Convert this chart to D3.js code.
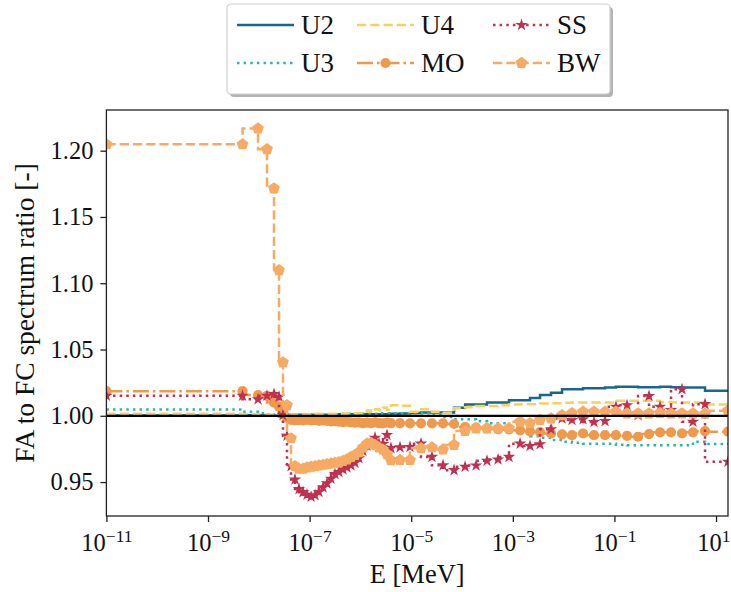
<!DOCTYPE html>
<html>
<head>
<meta charset="utf-8">
<script src="https://cdn.jsdelivr.net/npm/d3@7"></script>
<style>
  body { margin: 0; background: #fff; }
  svg text { font-family: "Liberation Serif", "DejaVu Serif", serif; fill: #111; }
</style>
</head>
<body>
<svg id="chart" width="731" height="592"></svg>
<script>
// Group boundary energies [MeV]; each ratio applies to the group ending at that energy
const energies = [
  1e-11, 4.78e-9, 9.64e-9, 1.45e-8, 1.99e-8, 2.50e-8, 2.99e-8, 3.59e-8, 4.30e-8, 5.16e-8,
  6.18e-8, 7.41e-8, 8.89e-8, 1.07e-7, 1.28e-7, 1.53e-7, 1.84e-7, 2.20e-7, 2.64e-7, 3.16e-7,
  3.79e-7, 4.54e-7, 5.45e-7, 6.53e-7, 7.83e-7, 9.38e-7, 1.12e-6, 1.35e-6, 1.62e-6, 1.94e-6,
  2.32e-6, 2.78e-6, 3.34e-6, 4.00e-6, 6.02e-6, 9.46e-6, 1.56e-5, 2.56e-5, 4.23e-5, 6.97e-5,
  1.15e-4, 1.89e-4, 3.10e-4, 5.12e-4, 8.42e-4, 1.39e-3, 2.18e-3, 3.43e-3, 5.65e-3, 9.31e-3,
  1.46e-2, 2.41e-2, 3.96e-2, 6.53e-2, 0.107, 0.177, 0.292, 0.480, 0.791, 1.30,
  2.14, 3.52, 6.07, 17.2
];

const ratioU2 = [
  1.0003, 1.0003, 1.0005, 1.0005, 1.0003, 1.0000, 0.9998, 1.0008, 1.0008, 1.0008,
  1.0008, 1.0008, 1.0008, 1.0008, 1.0008, 1.0008, 1.0008, 1.0008, 1.0008, 1.0008,
  1.0008, 1.0012, 1.0012, 1.0012, 1.0012, 1.0012, 1.0012, 1.0012, 1.0012, 1.0012,
  1.0012, 1.0012, 1.0012, 1.0012, 1.0015, 1.0018, 1.0022, 1.0025, 1.0025, 1.0025,
  1.0060, 1.0086, 1.0086, 1.0101, 1.0101, 1.0118, 1.0118, 1.0135, 1.0156, 1.0173,
  1.0201, 1.0201, 1.0207, 1.0207, 1.0213, 1.0219, 1.0219, 1.0216, 1.0216, 1.0219,
  1.0216, 1.0213, 1.0213, 1.0189
];

const ratioU3 = [
  1.0048, 1.0048, 1.0030, 1.0020, 1.0010, 1.0000, 0.9995, 1.0005, 1.0005, 1.0005,
  1.0005, 1.0005, 1.0005, 1.0010, 1.0010, 1.0010, 1.0010, 1.0010, 1.0010, 1.0010,
  1.0010, 1.0015, 1.0015, 1.0015, 1.0015, 1.0015, 1.0015, 1.0015, 1.0015, 1.0015,
  1.0015, 1.0020, 1.0020, 1.0020, 1.0020, 1.0020, 1.0020, 1.0020, 1.0010, 0.9990,
  0.9973, 0.9973, 0.9958, 0.9943, 0.9943, 0.9900, 0.9867, 0.9845, 0.9835, 0.9817,
  0.9805, 0.9797, 0.9790, 0.9790, 0.9790, 0.9782, 0.9777, 0.9777, 0.9777, 0.9777,
  0.9777, 0.9777, 0.9804, 0.9787
];

const ratioU4 = [
  1.0015, 1.0015, 1.0012, 1.0010, 1.0010, 1.0005, 1.0000, 1.0010, 1.0010, 1.0010,
  1.0010, 1.0010, 1.0010, 1.0010, 1.0010, 1.0015, 1.0015, 1.0015, 1.0015, 1.0015,
  1.0015, 1.0015, 1.0015, 1.0020, 1.0020, 1.0020, 1.0020, 1.0030, 1.0040, 1.0030,
  1.0050, 1.0040, 1.0060, 1.0045, 1.0080, 1.0075, 1.0030, 1.0050, 1.0030, 1.0023,
  1.0056, 1.0065, 1.0073, 1.0073, 1.0080, 1.0085, 1.0088, 1.0088, 1.0092, 1.0095,
  1.0098, 1.0101, 1.0101, 1.0101, 1.0101, 1.0113, 1.0113, 1.0113, 1.0113, 1.0105,
  1.0101, 1.0101, 1.0101, 1.0086
];

const ratioMO = [
  1.0186, 1.0186, 1.0156, 1.0150, 1.0100, 1.0070, 1.0030, 0.9985, 0.9970, 0.9965,
  0.9968, 0.9965, 0.9970, 0.9965, 0.9968, 0.9962, 0.9965, 0.9962, 0.9958, 0.9960,
  0.9955, 0.9952, 0.9955, 0.9950, 0.9948, 0.9950, 0.9945, 0.9948, 0.9945, 0.9950,
  0.9945, 0.9942, 0.9948, 0.9945, 0.9945, 0.9943, 0.9943, 0.9943, 0.9943, 0.9938,
  0.9915, 0.9910, 0.9905, 0.9900, 0.9897, 0.9890, 0.9882, 0.9877, 0.9867, 0.9860,
  0.9854, 0.9867, 0.9854, 0.9854, 0.9854, 0.9849, 0.9842, 0.9862, 0.9875, 0.9875,
  0.9867, 0.9875, 0.9885, 0.9880
];

const ratioSS = [
  1.0151, 1.0151, 1.0124, 1.0151, 1.0164, 1.0143, 1.0005, 0.9850, 0.9620, 0.9520,
  0.9447, 0.9424, 0.9405, 0.9389, 0.9400, 0.9425, 0.9460, 0.9490, 0.9525, 0.9560,
  0.9575, 0.9595, 0.9610, 0.9625, 0.9645, 0.9680, 0.9735, 0.9775, 0.9800, 0.9835,
  0.9790, 0.9787, 0.9855, 0.9756, 0.9762, 0.9764, 0.9790, 0.9690, 0.9626, 0.9590,
  0.9615, 0.9625, 0.9660, 0.9670, 0.9690, 0.9790, 0.9772, 0.9786, 0.9899, 0.9980,
  0.9968, 0.9974, 0.9953, 0.9960, 1.0068, 1.0080, 1.0005, 1.0149, 1.0068, 1.0043,
  1.0200, 0.9955, 1.0088, 0.9653
];

const ratioBW = [
  1.2048, 1.2048, 1.2167, 1.2011, 1.1715, 1.1099, 1.0403, 1.0080, 0.9830, 0.9620,
  0.9600, 0.9600, 0.9610, 0.9615, 0.9620, 0.9625, 0.9630, 0.9635, 0.9640, 0.9645,
  0.9650, 0.9660, 0.9670, 0.9690, 0.9705, 0.9725, 0.9760, 0.9790, 0.9795, 0.9780,
  0.9760, 0.9745, 0.9710, 0.9665, 0.9666, 0.9666, 0.9755, 0.9762, 0.9745, 0.9780,
  0.9885, 0.9905, 0.9905, 0.9905, 0.9905, 0.9955, 0.9945, 0.9968, 0.9980, 1.0005,
  1.0020, 1.0030, 1.0030, 1.0030, 1.0030, 1.0018, 1.0018, 1.0018, 1.0022, 1.0018,
  1.0018, 1.0018, 1.0015, 1.0038
];

const seriesNames = ["U2", "U3", "U4", "MO", "SS", "BW"];
const xTickValues = [1e-11, 1e-9, 1e-7, 1e-5, 1e-3, 1e-1, 1e1];
const yTickValues = [0.95, 1.00, 1.05, 1.10, 1.15, 1.20];
const xDomain = [1e-11, 17.2];
const yDomain = [0.9244, 1.2307];
const referenceRatio = 1.0;

const W = 731;
const plot = { left: 106.4, right: 728, top: 110, bottom: 516 };

const svg = d3.select("#chart");

const x = d3.scaleLog().domain(xDomain).range([plot.left, plot.right]);
const y = d3.scaleLinear().domain(yDomain).range([plot.bottom, plot.top]);

// Pentagon marker path
function pentagon(r) {
  const pts = d3.range(5).map(k => {
    const a = -Math.PI / 2 + k * 2 * Math.PI / 5;
    return [r * Math.cos(a), r * Math.sin(a)];
  });
  return "M" + pts.map(p => p[0].toFixed(2) + "," + p[1].toFixed(2)).join("L") + "Z";
}
const markerPath = {
  circle: d3.symbol(d3.symbolCircle, 82)(),
  star: d3.symbol(d3.symbolStar, 48)(),
  pentagon: pentagon(6.2)
};

const lw = 2.5;
const styles = {
  U2: { values: ratioU2, color: "#1b6787", dash: null, marker: null },
  U3: { values: ratioU3, color: "#2ab5b2", dash: [lw * 1, lw * 1.65], marker: null },
  U4: { values: ratioU4, color: "#f4d162", dash: [lw * 3.7, lw * 1.6], marker: null },
  MO: { values: ratioMO, color: "#ef994d", dash: [lw * 6.4, lw * 1.6, lw * 1, lw * 1.6], marker: "circle" },
  SS: { values: ratioSS, color: "#c0304f", dash: [lw * 1, lw * 1.65], marker: "star" },
  BW: { values: ratioBW, color: "#f6aa63", dash: [lw * 3.7, lw * 1.6], marker: "pentagon" }
};

svg.append("defs").append("clipPath").attr("id", "plot-clip")
  .append("rect")
  .attr("x", plot.left).attr("y", plot.top)
  .attr("width", plot.right - plot.left).attr("height", plot.bottom - plot.top);

const dataLayer = svg.append("g").attr("clip-path", "url(#plot-clip)");

const line = d3.line()
  .x(d => x(d[0]))
  .y(d => y(d[1]))
  .curve(d3.curveStepBefore);

seriesNames.forEach(name => {
  const s = styles[name];
  const pts = energies.map((e, i) => [e, s.values[i]]);
  const g = dataLayer.append("g").attr("class", "series-" + name);
  g.append("path")
    .attr("d", line(pts))
    .attr("fill", "none")
    .attr("stroke", s.color)
    .attr("stroke-width", lw)
    .attr("stroke-dasharray", s.dash ? s.dash.join(",") : null);
  if (s.marker) {
    g.selectAll("path.mk").data(pts).join("path")
      .attr("class", "mk")
      .attr("d", markerPath[s.marker])
      .attr("transform", d => `translate(${x(d[0])},${y(d[1])})`)
      .attr("fill", s.color);
  }
});

// Reference line at unity
dataLayer.append("line")
  .attr("x1", plot.left).attr("x2", plot.right)
  .attr("y1", y(referenceRatio)).attr("y2", y(referenceRatio))
  .attr("stroke", "#000").attr("stroke-width", 2.2);

// Axes
const xAxis = svg.append("g")
  .attr("transform", `translate(0,${plot.bottom})`)
  .call(d3.axisBottom(x).tickValues(xTickValues).tickSize(6).tickPadding(5).tickFormat(() => ""));
xAxis.select(".domain").remove();
xAxis.selectAll(".tick line").attr("stroke", "#222").attr("stroke-width", 1.3);
xAxis.selectAll(".tick text").each(function (d) {
  const t = d3.select(this)
    .attr("font-size", 24.5)
    .attr("dy", "0.98em");
  t.append("tspan").text("10");
  t.append("tspan")
    .attr("dy", "-0.5em")
    .attr("font-size", 17.5)
    .text(String(Math.round(Math.log10(d))).replace("-", "\u2212"));
  // keep the last label inside the page edge
  const box = this.getBBox();
  const tickX = x(d);
  const overflow = tickX + box.x + box.width - (W - 1);
  if (overflow > 0) t.attr("x", -overflow);
});

const yAxis = svg.append("g")
  .attr("transform", `translate(${plot.left},0)`)
  .call(d3.axisLeft(y).tickValues(yTickValues).tickSize(6).tickPadding(7).tickFormat(d3.format(".2f")));
yAxis.select(".domain").remove();
yAxis.selectAll(".tick line").attr("stroke", "#222").attr("stroke-width", 1.3);
yAxis.selectAll(".tick text").attr("font-size", 24.5);

// Frame
svg.append("rect")
  .attr("x", plot.left).attr("y", plot.top)
  .attr("width", plot.right - plot.left).attr("height", plot.bottom - plot.top)
  .attr("fill", "none").attr("stroke", "#222").attr("stroke-width", 1.3);

// Axis titles
svg.append("text")
  .attr("x", (plot.left + plot.right) / 2).attr("y", 583)
  .attr("text-anchor", "middle").attr("font-size", 26.5)
  .text("E [MeV]");
svg.append("text")
  .attr("transform", `translate(34,${(plot.top + plot.bottom) / 2}) rotate(-90)`)
  .attr("text-anchor", "middle").attr("font-size", 27.5)
  .text("FA to FC spectrum ratio [-]");

// Legend
const legend = svg.append("g");
const lx = 227, ly = 4, lwBox = 383, lhBox = 90;
legend.append("rect")
  .attr("x", lx + 3).attr("y", ly + 3).attr("width", lwBox).attr("height", lhBox)
  .attr("rx", 4).attr("fill", "#b3b3b3");
legend.append("rect")
  .attr("x", lx).attr("y", ly).attr("width", lwBox).attr("height", lhBox)
  .attr("rx", 4).attr("fill", "#fff").attr("stroke", "#d0d0d0").attr("stroke-width", 1.2);

const colX = [237, 357, 493];
const rowY = [25, 63];
const handleLen = 57;
seriesNames.forEach((name, i) => {
  const s = styles[name];
  const cx = colX[Math.floor(i / 2)], cy = rowY[i % 2];
  const g = legend.append("g");
  g.append("line")
    .attr("x1", cx).attr("x2", cx + handleLen)
    .attr("y1", cy).attr("y2", cy)
    .attr("stroke", s.color).attr("stroke-width", lw)
    .attr("stroke-dasharray", s.dash ? s.dash.join(",") : null);
  if (s.marker) {
    g.append("path")
      .attr("d", markerPath[s.marker])
      .attr("transform", `translate(${cx + handleLen / 2},${cy})`)
      .attr("fill", s.color);
  }
  g.append("text")
    .attr("x", cx + handleLen + 7).attr("y", cy)
    .attr("dy", "0.35em")
    .attr("font-size", 27)
    .text(name);
});
</script>
</body>
</html>
